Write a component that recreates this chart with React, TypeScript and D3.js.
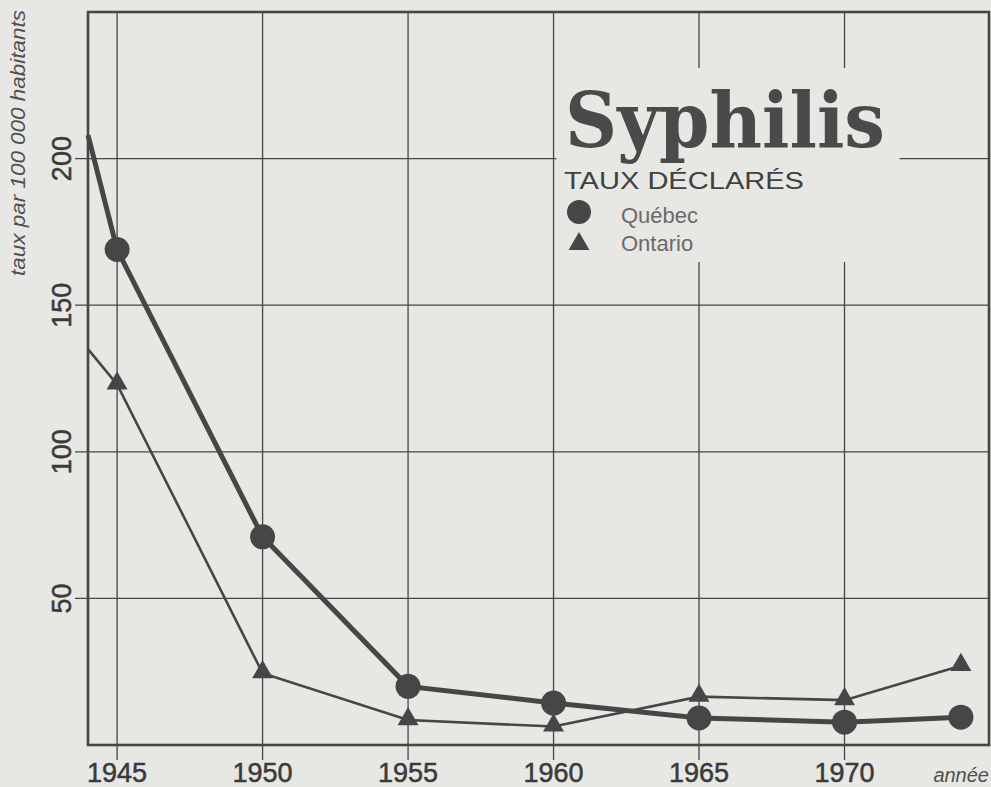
import React, { useEffect } from 'react'
import * as d3 from 'd3'

// taux de syphilis déclarés, par 100 000 habitants
const years = [1944, 1945, 1950, 1955, 1960, 1965, 1970, 1974]
const quebec = [208, 169, 71, 20, 14.3, 9.2, 7.8, 9.5]
const ontario = [135, 123, 24.5, 8.5, 6.3, 16.5, 15.3, 27]
const yearTicks = [1945, 1950, 1955, 1960, 1965, 1970]
const rateTicks = [50, 100, 150, 200]

const W = 991
const H = 787
const ink = '#464646'
const paper = '#e7e7e4'

const App = () => {
  useEffect(() => {
    document.body.style.margin = '0'
  }, [])

  const x = d3.scaleLinear().domain([1944, 1975]).range([88, 990])
  const y = d3.scaleLinear().domain([0, 250]).range([745, 12])

  const line = d3.line<number>()
    .x((d, i) => x(years[i]))
    .y(d => y(d))

  const tri = d3.symbol(d3.symbolTriangle, 190)()
  const shown = years.map((yr, i) => i).filter(i => years[i] >= 1945)

  const [x0, x1] = x.range()
  const [y0, y1] = y.range()

  // zone du titre / légende qui masque la grille
  const boxX = x(1960) + 3, boxW = 343, boxY = 68, boxH = 194

  return (
    <svg width={W} height={H} style={{ display: 'block', background: paper }}>
      <rect width={W} height={H} fill={paper} />

      {/* grille */}
      <g stroke={ink} strokeWidth={1.3}>
        {rateTicks.map(t => (
          <line key={t} x1={x0 - 13} x2={x1} y1={y(t)} y2={y(t)} />
        ))}
        {yearTicks.map(t => (
          <line key={t} x1={x(t)} x2={x(t)} y1={y1} y2={y0 + 15} />
        ))}
      </g>

      <rect x={boxX} y={boxY} width={boxW} height={boxH} fill={paper} />

      {/* cadre */}
      <rect x={x0} y={y1} width={x1 - x0 - 1} height={y0 - y1} fill="none" stroke={ink} strokeWidth={2.6} />

      {/* séries */}
      <path d={line(ontario) || ''} fill="none" stroke={ink} strokeWidth={2.6} />
      <path d={line(quebec) || ''} fill="none" stroke={ink} strokeWidth={5} />
      {shown.map(i => (
        <circle key={'q' + i} cx={x(years[i])} cy={y(quebec[i])} r={12.5} fill={ink} />
      ))}
      {shown.map(i => (
        <path key={'o' + i} d={tri || ''} transform={`translate(${x(years[i])},${y(ontario[i]) - 1})`} fill={ink} />
      ))}

      {/* axes */}
      <g fontFamily="'Liberation Sans', Arial, sans-serif" fill="#3a3a3a" stroke="#3a3a3a" strokeWidth={0.5}>
        {yearTicks.map(t => (
          <text key={t} x={x(t)} y={782} fontSize={27} textAnchor="middle">{t}</text>
        ))}
        {rateTicks.map(t => (
          <text key={t} transform={`translate(71,${y(t)}) rotate(-90)`} fontSize={27} textAnchor="middle">{t}</text>
        ))}
      </g>
      <g fontFamily="'Liberation Sans', Arial, sans-serif" fontStyle="italic" fill="#505050">
        <text transform="translate(25,143) rotate(-90)" fontSize={20} textAnchor="middle" textLength={266} lengthAdjust="spacingAndGlyphs">
          taux par 100 000 habitants
        </text>
        <text x={989} y={782} fontSize={20} textAnchor="end">année</text>
      </g>

      {/* titre et légende */}
      <text x={565} y={147} fontFamily="'DejaVu Serif', serif" fontWeight="bold" fontSize={76} fill="#4a4a4a"
        textLength={320} lengthAdjust="spacingAndGlyphs">Syphilis</text>
      <text x={564} y={189} fontFamily="'Liberation Sans', Arial, sans-serif" fontSize={23} fill="#404040"
        textLength={240} lengthAdjust="spacingAndGlyphs">TAUX DÉCLARÉS</text>
      <circle cx={579} cy={212} r={12} fill={ink} />
      <path d={tri || ''} transform="translate(579,244)" fill={ink} />
      <g fontFamily="'Liberation Sans', Arial, sans-serif" fontSize={22} fill="#6a6a6a">
        <text x={621} y={223}>Québec</text>
        <text x={621} y={251}>Ontario</text>
      </g>
    </svg>
  )
}

export default App
